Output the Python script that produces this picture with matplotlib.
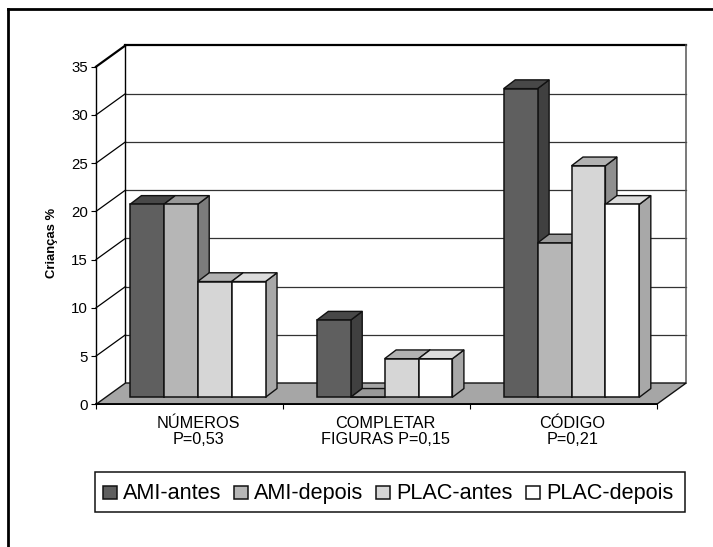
import matplotlib
matplotlib.use("Agg")
import matplotlib.pyplot as plt
from matplotlib.patches import Polygon, Rectangle
from matplotlib.lines import Line2D
from matplotlib.transforms import offset_copy

plt.rcParams['font.family'] = ['Liberation Sans', 'DejaVu Sans']

categories = ["NÚMEROS\nP=0,53", "COMPLETAR\nFIGURAS P=0,15", "CÓDIGO\nP=0,21"]
series_names = ["AMI-antes", "AMI-depois", "PLAC-antes", "PLAC-depois"]
ami_antes = [20, 8, 32]
ami_depois = [20, 0, 16]
plac_antes = [12, 4, 24]
plac_depois = [12, 4, 20]
y_ticks = [0, 5, 10, 15, 20, 25, 30, 35]

series = [ami_antes, ami_depois, plac_antes, plac_depois]
face = ['#5f5f5f', '#b6b6b6', '#d6d6d6', '#ffffff']
side = ['#404040', '#7c7c7c', '#8f8f8f', '#a8a8a8']
top = ['#484848', '#999999', '#b2b2b2', '#dcdcdc']
floor_col = '#a6a6a6'

W, H = 713, 547
fig = plt.figure(figsize=(W / 100, H / 100), dpi=100, facecolor='white')
L, R, B, T = 96.0, 656.7, 404.3, 66.7
ax = fig.add_axes([L / W, 1 - B / H, (R - L) / W, (B - T) / H])
ax.set_xlim(-0.5, 2.5)
ax.set_ylim(0, 35)
ax.set_facecolor('none')

DX = 29.5 / ((R - L) / 3)      # depth of the plot box, category units
DY = 21.3 / ((B - T) / 35)     # depth of the plot box, value units
BAR_W = 33.9 / ((R - L) / 3)
OFF_X, OFF_Y = 0.28, 0.33      # bars stand this far into the floor
DEP_X, DEP_Y = 0.39, 0.41      # bar depth as a share of the box depth
ln = '#111111'

# floor
ax.add_patch(Polygon([(-0.5, 0), (2.5, 0), (2.5 + DX, DY), (-0.5 + DX, DY)], closed=True,
                     fc=floor_col, ec=ln, lw=1.0, clip_on=False, zorder=2))
# walls and grid
for v in y_ticks[1:]:
    lw = 1.6 if v == 35 else 0.9
    ax.plot([-0.5, -0.5 + DX], [v, v + DY], color='black', lw=lw, clip_on=False, zorder=1)
    ax.plot([-0.5 + DX, 2.5 + DX], [v + DY, v + DY], color='#000000' if v == 35 else '#333333',
            lw=lw, clip_on=False, zorder=1)
ax.plot([-0.5 + DX] * 2, [DY, 35 + DY], color='black', lw=1.0, clip_on=False, zorder=1)
ax.plot([2.5 + DX] * 2, [DY, 35 + DY], color='#555555', lw=1.1, clip_on=False, zorder=1)

# bars
z = 3
for c in range(len(categories)):
    for s, vals in enumerate(series):
        v = vals[c]
        x0 = c - 2 * BAR_W + s * BAR_W + OFF_X * DX
        x1 = x0 + BAR_W
        y0 = OFF_Y * DY
        y1 = y0 + v
        ddx, ddy = DEP_X * DX, DEP_Y * DY
        ax.add_patch(Polygon([(x1, y0), (x1 + ddx, y0 + ddy), (x1 + ddx, y1 + ddy), (x1, y1)], closed=True,
                             fc=side[s], ec=ln, lw=1.0, clip_on=False, zorder=z, joinstyle='round'))
        ax.add_patch(Polygon([(x0, y1), (x1, y1), (x1 + ddx, y1 + ddy), (x0 + ddx, y1 + ddy)], closed=True,
                             fc=top[s], ec=ln, lw=1.0, clip_on=False, zorder=z))
        ax.bar(x0, v, BAR_W, bottom=y0, align='edge', color=face[s], edgecolor=ln, lw=1.1,
               clip_on=False, zorder=z + 0.5)
        z += 1

# axes furniture
for sp in ['top', 'right']:
    ax.spines[sp].set_visible(False)
for sp in ['left', 'bottom']:
    ax.spines[sp].set_linewidth(1.0)
    ax.spines[sp].set_zorder(60)
ax.spines['bottom'].set_linewidth(1.3)
ax.set_yticks(y_ticks)
ax.tick_params(axis='y', length=3.6, width=0.8, pad=2.2, labelsize=10.8)
ax.set_xticks([-0.5, 0.5, 1.5, 2.5])
ax.set_xticklabels([])
ax.tick_params(axis='x', length=3.6, width=0.8)
ax.set_ylabel("Crianças %", fontweight='bold', fontsize=9.4, labelpad=9.6, y=0.479)

# category labels sit under the bars, which are shifted into the floor
trans = offset_copy(ax.get_xaxis_transform(), fig=fig, x=9.3, y=-12, units='dots')
for i, lab in enumerate(categories):
    ax.text(i, 0, lab, transform=trans, ha='center', va='top', fontsize=11.7,
            linespacing=1.02, clip_on=False)

# legend, in figure pixels
def fx(px):
    return px / W

def fy(py):
    return 1 - py / H

fig.add_artist(Rectangle((fx(95), fy(512)), (684.7 - 95) / W, (512 - 472.3) / H, fc='white', ec=ln, lw=1.1,
                         transform=fig.transFigure))
for name, fc, sx, tx in zip(series_names, face, [103, 234, 376, 526], [123, 254, 396, 546]):
    fig.add_artist(Rectangle((fx(sx), fy(499)), 13.5 / W, 13 / H, fc=fc, ec=ln, lw=1.1,
                             transform=fig.transFigure))
    fig.text(fx(tx), fy(499), name, fontsize=15.6, ha='left', va='baseline')

# outer border: only the top and left edges are in the image
fig.add_artist(Line2D([7.5 / W, 1], [1 - 8.5 / H, 1 - 8.5 / H], color='black', lw=2.0))
fig.add_artist(Line2D([7.5 / W, 7.5 / W], [1 - 8.5 / H, 0], color='black', lw=2.0))

fig.savefig("out.png", dpi=100)
